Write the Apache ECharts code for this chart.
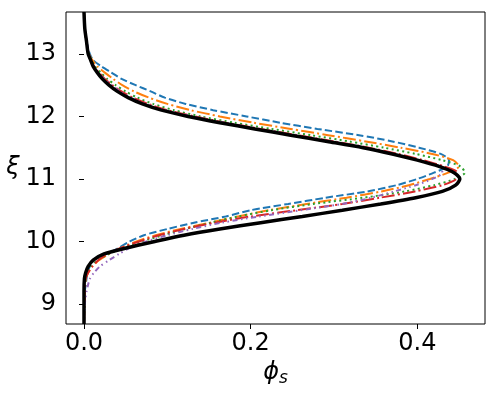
<!DOCTYPE html>
<html>
<head>
<meta charset="utf-8">
<script src="https://cdn.jsdelivr.net/npm/echarts@6/dist/echarts.min.js"></script>
<style>
  html, body { margin: 0; padding: 0; background: #fff; }
  #profile { width: 498px; height: 394px; }
</style>
</head>
<body>
<div id="profile"></div>
<script>
// 坐标 ξ（纵轴），各曲线在这些位置上的 φ_s 值
var xi = [8.68, 9.0, 9.2, 9.4, 9.5, 9.6, 9.7, 9.8, 9.9, 10.0, 10.1, 10.2, 10.3, 10.4, 10.5,
  10.6, 10.7, 10.8, 10.9, 11.0, 11.1, 11.2, 11.3, 11.4, 11.5, 11.6, 11.7, 11.8, 11.9, 12.0,
  12.1, 12.2, 12.3, 12.4, 12.5, 12.6, 12.7, 12.8, 12.9, 13.0, 13.2, 13.4, 13.67];

var phiBlack = [0, 0, 0, 0.0005, 0.002, 0.005, 0.011, 0.024, 0.052, 0.085, 0.12, 0.163, 0.212, 0.262, 0.31,
  0.356, 0.398, 0.43, 0.446, 0.451, 0.444, 0.426, 0.4, 0.37, 0.335, 0.292, 0.248, 0.205, 0.163, 0.125,
  0.093, 0.07, 0.053, 0.04, 0.03, 0.022, 0.016, 0.011, 0.008, 0.005, 0.003, 0.001, 0];

var phiBlue = [0, 0.0005, 0.001, 0.003, 0.004, 0.007, 0.012, 0.027, 0.042, 0.055, 0.072, 0.1, 0.132, 0.17, 0.2,
  0.245, 0.29, 0.34, 0.375, 0.4, 0.42, 0.436, 0.438, 0.428, 0.402, 0.37, 0.33, 0.28, 0.235, 0.195,
  0.155, 0.122, 0.097, 0.08, 0.062, 0.045, 0.033, 0.021, 0.011, 0.007, 0.003, 0.001, 0];

var phiOrange = [0, 0.0005, 0.001, 0.002, 0.005, 0.01, 0.018, 0.03, 0.045, 0.063, 0.086, 0.116, 0.151, 0.185, 0.222,
  0.267, 0.315, 0.357, 0.39, 0.415, 0.437, 0.45, 0.443, 0.418, 0.38, 0.338, 0.293, 0.248, 0.203, 0.163,
  0.128, 0.1, 0.078, 0.06, 0.046, 0.035, 0.025, 0.016, 0.01, 0.006, 0.003, 0.001, 0];

var phiGreen = [0, 0.0005, 0.001, 0.002, 0.004, 0.008, 0.016, 0.03, 0.048, 0.07, 0.095, 0.122, 0.152, 0.185, 0.225,
  0.275, 0.335, 0.385, 0.42, 0.445, 0.457, 0.452, 0.43, 0.398, 0.36, 0.318, 0.272, 0.225, 0.18, 0.14,
  0.108, 0.083, 0.064, 0.05, 0.038, 0.028, 0.02, 0.013, 0.009, 0.006, 0.003, 0.001, 0];

var phiRed = [0, 0.0005, 0.001, 0.002, 0.005, 0.01, 0.017, 0.028, 0.045, 0.066, 0.09, 0.12, 0.157, 0.2, 0.255,
  0.31, 0.355, 0.397, 0.43, 0.447, 0.448, 0.432, 0.407, 0.377, 0.342, 0.3, 0.256, 0.212, 0.17, 0.133,
  0.1, 0.077, 0.059, 0.045, 0.034, 0.025, 0.018, 0.012, 0.008, 0.005, 0.003, 0.001, 0];

var phiPurple = [0, 0.001, 0.003, 0.007, 0.012, 0.019, 0.03, 0.042, 0.055, 0.075, 0.1, 0.13, 0.165, 0.21, 0.26,
  0.31, 0.345, 0.372, 0.398, 0.418, 0.43, 0.428, 0.4, 0.37, 0.337, 0.296, 0.253, 0.21, 0.168, 0.13,
  0.097, 0.073, 0.056, 0.043, 0.033, 0.024, 0.017, 0.012, 0.008, 0.006, 0.003, 0.001, 0];

var xTicks = [0.0, 0.2, 0.4];
var yTicks = [9, 10, 11, 12, 13];

function pairs(phi) {
    return phi.map(function (p, i) { return [p, xi[i]]; });
}

var myChart = echarts.init(document.getElementById('profile'));
var font = 'DejaVu Sans';

function curve(phi, color, width, dash) {
    return {
        type: 'line',
        data: pairs(phi),
        showSymbol: false,
        smooth: 0.25,
        silent: true,
        lineStyle: { color: color, width: width, type: dash, cap: 'butt' }
    };
}

var option = {
    animation: false,
    grid: {
        left: 66, right: 13, top: 12, bottom: 70,
        outerBoundsMode: 'none',
        containLabel: false,
        show: true, borderColor: '#000', borderWidth: 1
    },
    xAxis: {
        type: 'value',
        min: -0.0216, max: 0.4812,
        splitLine: { show: false },
        axisLine: { show: false },
        axisTick: { show: true, length: 5, customValues: xTicks, lineStyle: { color: '#000' } },
        axisLabel: {
            customValues: xTicks, margin: 8,
            fontFamily: font, fontSize: 24, color: '#000',
            formatter: function (v) { return v.toFixed(1); }
        },
        name: '{a|ϕ}{b|s}',
        nameLocation: 'middle',
        nameGap: 30,
        nameTextStyle: {
            rich: {
                a: { fontFamily: font, fontStyle: 'italic', fontSize: 24, color: '#000' },
                b: { fontFamily: font, fontStyle: 'italic', fontSize: 17, color: '#000', padding: [12, 0, 0, 0] }
            }
        }
    },
    yAxis: {
        type: 'value',
        min: 8.68, max: 13.67,
        splitLine: { show: false },
        axisLine: { show: false },
        axisTick: { show: true, length: 5, customValues: yTicks, lineStyle: { color: '#000' } },
        axisLabel: {
            customValues: yTicks, margin: 10,
            fontFamily: font, fontSize: 24, color: '#000'
        },
        name: 'ξ',
        nameLocation: 'middle',
        nameRotate: 0,
        nameGap: 46,
        nameTextStyle: { fontFamily: font, fontStyle: 'italic', fontSize: 24, color: '#000', padding: [0, 0, 30, 0] }
    },
    series: [
        curve(phiBlue, '#1f77b4', 2, [7.4, 3.2]),
        curve(phiOrange, '#ff7f0e', 2, [12.8, 3.2, 2, 3.2]),
        curve(phiGreen, '#2ca02c', 2, [2, 3.3]),
        curve(phiRed, '#d62728', 2, [12.8, 3.2, 2, 3.2]),
        curve(phiPurple, '#9467bd', 2, [5, 3.5, 1.5, 3.5, 1.5, 3.5]),
        curve(phiBlack, '#000000', 3.5, 'solid')
    ]
};

myChart.setOption(option);
</script>
</body>
</html>
